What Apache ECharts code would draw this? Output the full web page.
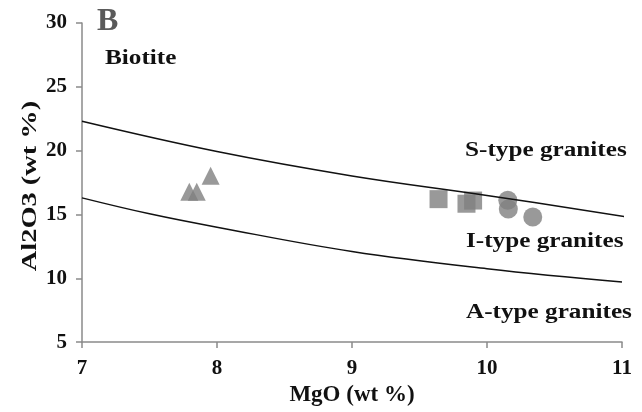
<!DOCTYPE html>
<html>
<head>
<meta charset="utf-8">
<script src="https://cdn.jsdelivr.net/npm/echarts@6/dist/echarts.min.js"></script>
<style>html,body{margin:0;padding:0;background:#fff;}#c{width:642px;height:412px;}</style>
</head>
<body>
<div id="c"></div>
<script>
// Data
var triangles = [[7.953, 18.03], [7.795, 16.77], [7.85, 16.77]];
var squares = [[9.641, 16.20], [9.848, 15.84], [9.897, 16.09]];
var circles = [[10.154, 16.12], [10.158, 15.42], [10.339, 14.80]];
var upperCurve = [[7, 22.3], [8, 19.93], [9, 18.02], [10, 16.49], [11.08, 14.74]];
var lowerCurve = [[7, 16.3], [7.5, 15.05], [8, 14.0], [9, 12.1], [10, 10.75], [11, 9.7]];
var xTicks = [7, 8, 9, 10, 11];
var yTicks = [5, 10, 15, 20, 25, 30];

var serif = '"Liberation Serif", "DejaVu Serif", serif';
var axisGray = '#8a8a8a';
var markGray = '#7f7f7f';
var stretch = 1.26;

function label(txt, x, y, size) {
  return {type: 'text', x: x, y: y, scaleX: stretch, scaleY: 1,
    style: {text: txt, font: 'bold ' + size + 'px ' + serif, fill: '#111',
            textAlign: 'left', textVerticalAlign: 'bottom'}};
}

var chart = echarts.init(document.getElementById('c'));
chart.setOption({
  animation: false,
  backgroundColor: '#fff',
  grid: {left: 82, right: 20, top: 23, bottom: 66},
  xAxis: {
    type: 'value', min: xTicks[0], max: xTicks[xTicks.length - 1], interval: 1,
    name: 'MgO (wt %)', nameLocation: 'middle', nameGap: 41,
    nameTextStyle: {fontFamily: serif, fontWeight: 'bold', fontSize: 23, color: '#111'},
    axisLine: {show: true, lineStyle: {color: axisGray, width: 1.5}},
    axisTick: {show: true, inside: false, length: 6, lineStyle: {color: axisGray, width: 1.5}},
    axisLabel: {fontFamily: serif, fontWeight: 'bold', fontSize: 21, color: '#111', margin: 16},
    splitLine: {show: false}
  },
  yAxis: {
    type: 'value', min: yTicks[0], max: yTicks[yTicks.length - 1], interval: 5,
    axisLine: {show: true, lineStyle: {color: axisGray, width: 1.5}},
    axisTick: {show: true, inside: false, length: 6, lineStyle: {color: axisGray, width: 1.5}},
    axisLabel: {fontFamily: serif, fontWeight: 'bold', fontSize: 21, color: '#111', margin: 15},
    splitLine: {show: false}
  },
  series: [
    {type: 'line', data: upperCurve, smooth: 0.4, symbol: 'none', clip: false,
     lineStyle: {color: '#111', width: 1.5}},
    {type: 'line', data: lowerCurve, smooth: 0.4, symbol: 'none', clip: false,
     lineStyle: {color: '#111', width: 1.5}},
    {type: 'scatter', data: triangles, symbol: 'triangle', symbolSize: 18,
     itemStyle: {color: markGray}},
    {type: 'scatter', data: squares, symbol: 'rect', symbolSize: 18,
     itemStyle: {color: markGray}},
    {type: 'scatter', data: circles, symbol: 'circle', symbolSize: 19,
     itemStyle: {color: markGray}}
  ],
  graphic: [
    {type: 'text', x: 97, y: 38, style: {text: 'B', font: 'bold 32px ' + serif, fill: '#5a5a5a',
      textAlign: 'left', textVerticalAlign: 'bottom'}},
    label('Biotite', 105, 69, 20),
    label('S-type granites', 465, 161, 20),
    label('I-type granites', 466, 252, 20),
    label('A-type granites', 466, 323, 20),
    {type: 'text', x: 30, y: 186, rotation: Math.PI / 2, scaleX: 1.29, scaleY: 1,
     style: {text: 'Al2O3 (wt %)', font: 'bold 22px ' + serif, fill: '#111',
             textAlign: 'center', textVerticalAlign: 'middle'}}
  ]
});
</script>
</body>
</html>
